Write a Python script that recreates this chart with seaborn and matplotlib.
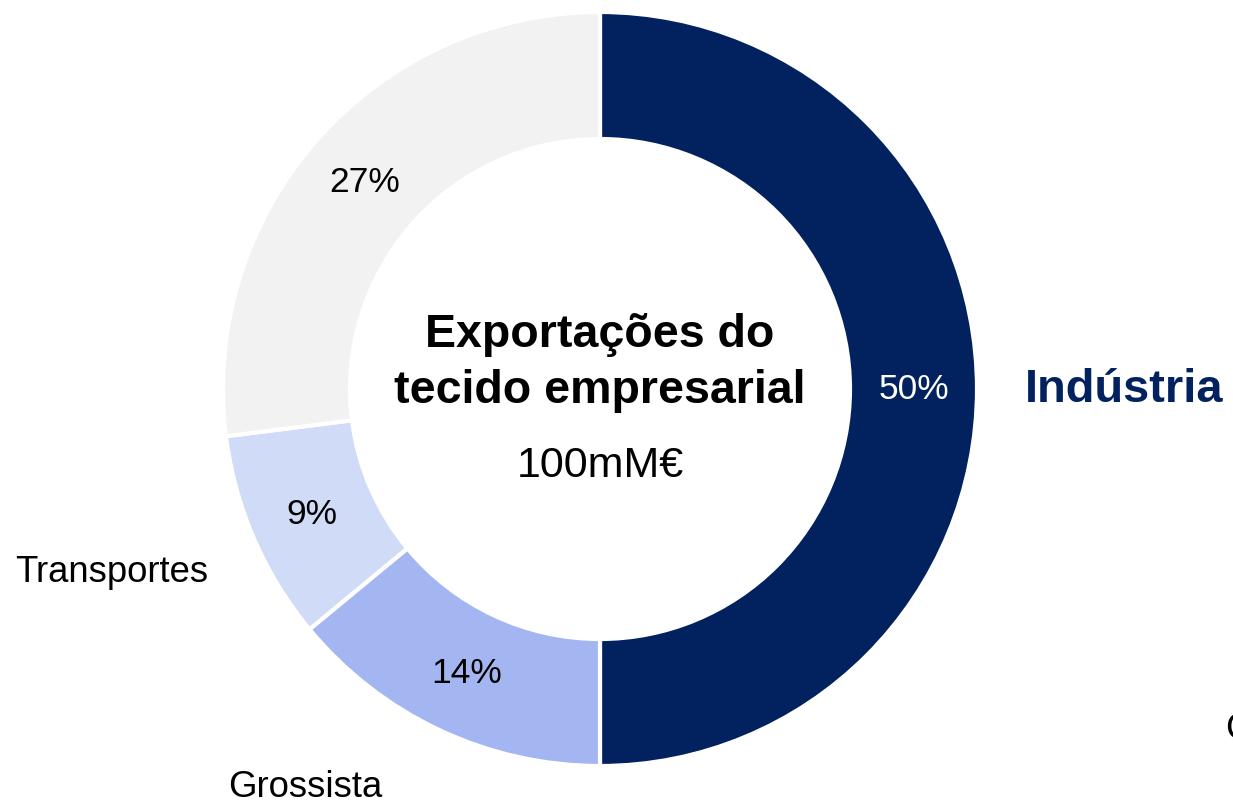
import numpy as np
import matplotlib.pyplot as plt
import seaborn as sns

# sector shares of exports (clockwise from the top)
sectors = ['Indústria', 'Grossista', 'Transportes', 'Outros']
shares = [50, 14, 9, 27]
colors = ['#02215f', '#a3b6f2', '#d0dbf7', '#f2f2f2']
pct_colors = ['white', 'black', 'black', 'black']

center_title = 'Exportações do\ntecido empresarial'
center_value = '100mM€'

sns.set_theme(style="white")
plt.rcParams['font.family'] = ['Liberation Sans', 'DejaVu Sans']

W, H = 1233, 804
fig = plt.figure(figsize=(W / 100, H / 100), dpi=100)
ax = fig.add_axes([0, 0, 1, 1])

cx, cy = 600, H - 390
R, ring = 377, 127

wedges, texts, autotexts = ax.pie(
    shares, colors=colors, startangle=90, counterclock=False,
    center=(cx, cy), radius=R, autopct='%d%%', pctdistance=(R - ring / 2) / R,
    wedgeprops=dict(width=ring, edgecolor='white', linewidth=3),
    textprops=dict(fontsize=25.5),
)
for t, c in zip(autotexts, pct_colors):
    t.set_color(c)

ax.set_xlim(0, W)
ax.set_ylim(0, H)
ax.set_aspect('equal')
ax.axis('off')

# centre text
ax.text(cx, H - 363, center_title, ha='center', va='center', fontsize=33.5,
        fontweight='bold', color='black', linespacing=1.36)
ax.text(cx, H - 466, center_value, ha='center', va='center', fontsize=31, color='black')

# category labels
ax.text(1025, H - 390, sectors[0], ha='left', va='center', fontsize=33.8,
        fontweight='bold', color=colors[0])
ax.text(15, H - 573, sectors[2], ha='left', va='center', fontsize=26.3, color='black')
ax.text(228, H - 788, sectors[1], ha='left', va='center', fontsize=26.3, color='black')
ax.text(1225, H - 730, 'C', ha='left', va='center', fontsize=26.3, color='black')

fig.savefig('out.png', dpi=100)
